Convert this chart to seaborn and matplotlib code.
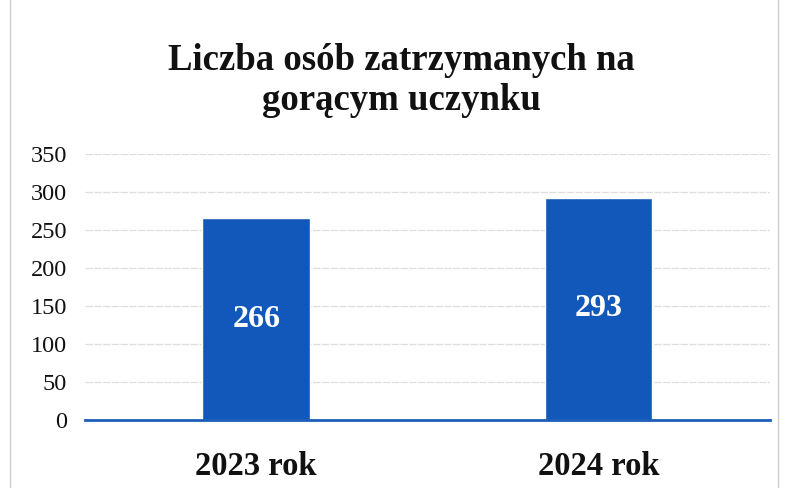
import pandas as pd
import seaborn as sns
import matplotlib.pyplot as plt
from matplotlib.patches import Rectangle

years = ['2023 rok', '2024 rok']
detained = [266, 293]
yticks = [0, 50, 100, 150, 200, 250, 300, 350]

df = pd.DataFrame({'year': years, 'count': detained})

sns.set_style('white')
plt.rcParams['font.family'] = ['Liberation Serif', 'DejaVu Serif']

fig = plt.figure(figsize=(7.87, 4.88), dpi=100)
ax = fig.add_axes([0.108, 0.139, 0.870, 0.545])

sns.barplot(data=df, x='year', y='count', color='#1258ba', saturation=1,
            width=0.315, ax=ax, zorder=3)

ax.set_ylim(0, 350)
ax.set_yticks(yticks)
ax.set_yticklabels([str(t) for t in yticks], fontsize=17.5, color='#111111')
ax.yaxis.grid(True, color='#dedede', linewidth=0.9, linestyle=(0, (6, 1)), zorder=0)
ax.tick_params(axis='y', length=0, pad=13)
ax.tick_params(axis='x', length=0, pad=22, labelsize=23.5, labelcolor='#111111')
for lbl in ax.get_xticklabels():
    lbl.set_fontweight('bold')
ax.set_xlabel('')
ax.set_ylabel('')
sns.despine(ax=ax, left=True, right=True, top=True)
ax.spines['bottom'].set_color('#1d5cb8')
ax.spines['bottom'].set_linewidth(2)
ax.spines['bottom'].set_zorder(4)

for i, v in enumerate(detained):
    ax.text(i, v / 2, str(v), ha='center', va='center', color='white',
            fontsize=23, fontweight='bold', zorder=5)

fig.text(0.51, 0.835, 'Liczba osób zatrzymanych na\ngorącym uczynku', ha='center',
         va='center', fontsize=26.5, fontweight='bold', linespacing=1.2, color='#111111')

fig.patches.append(Rectangle((0.013, -0.01), 0.975, 1.03, transform=fig.transFigure,
                             fill=False, edgecolor='#cccccc', linewidth=1))

fig.savefig('out.png', dpi=100)
